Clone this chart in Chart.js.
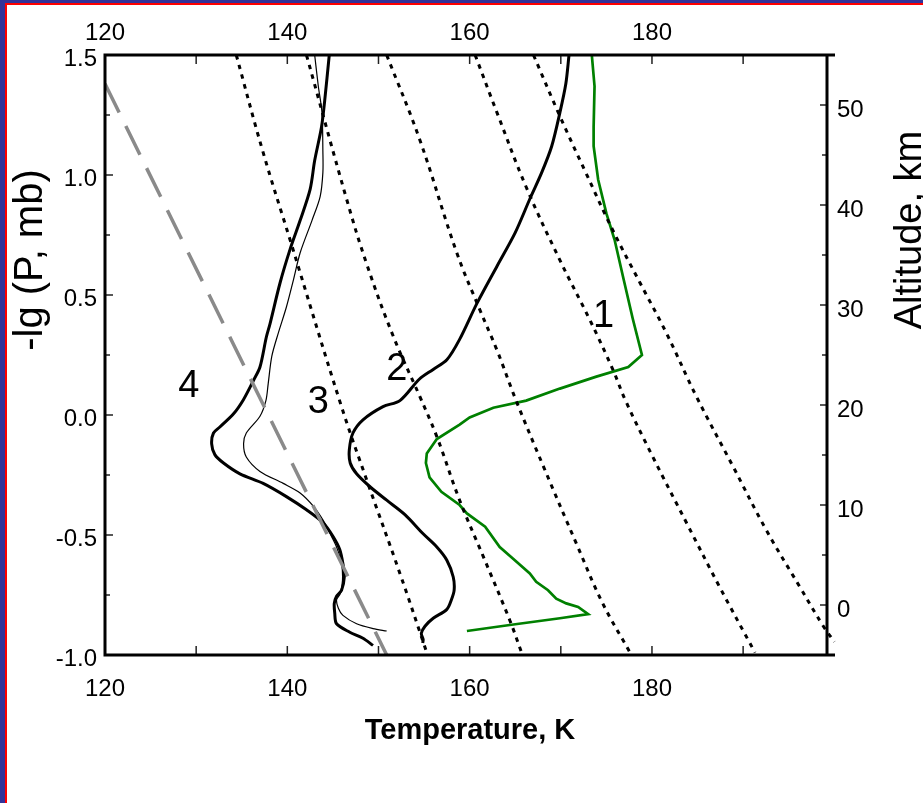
<!DOCTYPE html>
<html>
<head>
<meta charset="utf-8">
<script src="https://cdn.jsdelivr.net/npm/chart.js@4"></script>
<style>
  html, body { margin: 0; padding: 0; background: #fff; }
  #wrap { width: 923px; height: 803px; }
</style>
</head>
<body>
<div id="wrap"><canvas id="profiles" width="923" height="803"></canvas></div>
<script>
// tick values
const tempTicks = [120, 140, 160, 180];
const tempMinor = [130, 150, 170, 190];
const lgpTicks = [-1, -0.5, 0, 0.5, 1, 1.5];
const lgpMinor = [-0.75, -0.25, 0.25, 0.75, 1.25];
const altTicks = [0, 10, 20, 30, 40, 50];
const altMinor = [-5, 5, 15, 25, 35, 45];

// profile 1 (green)
const p1Temp = [173.4, 173.7, 173.6, 173.6, 174.1, 175.0, 175.9, 176.8, 177.9, 178.9, 177.4, 173.9, 169.9, 166.2, 162.6, 160.0, 158.9, 156.4, 155.3, 155.2, 155.6, 156.9, 158.9, 159.7, 161.7, 163.3, 164.8, 166.6, 167.3, 168.6, 169.5, 170.6, 171.9, 173.0, 169.9, 164.4, 159.7];
const p1Lgp = [1.5, 1.37, 1.2, 1.12, 0.98, 0.84, 0.73, 0.58, 0.40, 0.25, 0.20, 0.16, 0.11, 0.06, 0.03, -0.01, -0.04, -0.10, -0.16, -0.20, -0.26, -0.32, -0.375, -0.41, -0.465, -0.55, -0.60, -0.66, -0.695, -0.73, -0.765, -0.785, -0.80, -0.83, -0.847, -0.875, -0.90];

// profile 2
const p2Temp = [170.9, 170.55, 169.9, 169.0, 167.9, 166.6, 165.0, 163.0, 160.8, 158.9, 157.5, 156.0, 154.5, 152.35, 150.5, 148.3, 147.2, 146.8, 146.9, 147.6, 149.1, 150.9, 152.9, 154.9, 156.4, 157.5, 158.2, 158.3, 158.0, 157.5, 156.0, 155.1, 154.7, 154.9, 154.85];
const p2Lgp = [1.5, 1.38, 1.26, 1.12, 1.01, 0.90, 0.76, 0.62, 0.465, 0.315, 0.23, 0.19, 0.15, 0.06, 0.035, -0.02, -0.075, -0.145, -0.20, -0.245, -0.30, -0.355, -0.415, -0.495, -0.55, -0.605, -0.675, -0.73, -0.77, -0.81, -0.847, -0.88, -0.91, -0.935, -0.95];

// profile 3 (thin)
const p3Temp = [143.0, 143.4, 143.8, 143.9, 143.9, 143.6, 142.7, 141.4, 140.65, 139.9, 139.0, 138.3, 137.9, 137.65, 137.0, 135.5, 135.2, 135.5, 137.0, 139.55, 141.4, 142.85, 143.95, 144.7, 145.4, 145.95, 146.05, 145.8, 145.4, 145.6, 146.1, 147.6, 149.4, 150.9];
const p3Lgp = [1.5, 1.37, 1.26, 1.10, 1.01, 0.91, 0.81, 0.675, 0.56, 0.45, 0.34, 0.245, 0.13, 0.06, -0.005, -0.075, -0.12, -0.175, -0.235, -0.285, -0.325, -0.38, -0.44, -0.495, -0.55, -0.62, -0.69, -0.745, -0.77, -0.805, -0.835, -0.87, -0.89, -0.90];

// profile 4
const p4Temp = [144.6, 144.1, 143.75, 143.0, 142.5, 141.4, 140.3, 139.2, 138.1, 137.7, 137.0, 136.3, 135.2, 134.1, 132.6, 131.9, 131.7, 132.05, 133.0, 134.8, 137.35, 139.9, 142.1, 143.95, 145.0, 145.75, 146.1, 146.25, 145.95, 145.4, 145.15, 145.2, 145.4, 146.85, 148.3, 149.4];
const p4Lgp = [1.5, 1.31, 1.20, 1.06, 0.94, 0.81, 0.69, 0.55, 0.38, 0.325, 0.20, 0.145, 0.065, 0.005, -0.05, -0.075, -0.12, -0.165, -0.20, -0.245, -0.285, -0.34, -0.395, -0.45, -0.505, -0.56, -0.62, -0.675, -0.73, -0.755, -0.785, -0.825, -0.87, -0.905, -0.93, -0.96];

// dotted curves
const d1Temp = [134.4, 137.3, 140.3, 145.9, 148.7, 152.35, 155.3];
const d1Lgp = [1.5, 1.1, 0.73, 0.04, -0.27, -0.66, -0.99];
const d2Temp = [142.1, 146.5, 148.7, 151.6, 154.5, 156.4, 158.9, 161.5, 164.4, 165.7];
const d2Lgp = [1.5, 0.90, 0.63, 0.33, 0.08, -0.09, -0.355, -0.59, -0.855, -0.99];
const d3Temp = [150.9, 154.5, 158.6, 161.1, 163.0, 165.1, 168.1, 171.7, 174.6, 177.6];
const d3Lgp = [1.5, 1.15, 0.675, 0.44, 0.27, 0.06, -0.215, -0.535, -0.785, -0.99];
const d4Temp = [160.6, 163.0, 166.2, 169.9, 173.2, 175.7, 177.1, 180.1, 183.8, 187.4, 191.3];
const d4Lgp = [1.5, 1.26, 0.95, 0.645, 0.395, 0.19, 0.06, -0.175, -0.45, -0.715, -0.99];
const d5Temp = [167.0, 169.9, 172.8, 175.7, 178.7, 181.6, 184.9, 188.9, 192.55, 196.2, 198.8, 200.0];
const d5Lgp = [1.5, 1.245, 1.005, 0.77, 0.55, 0.34, 0.075, -0.215, -0.48, -0.715, -0.88, -0.945];

// grey dashed line
const gTemp = [120, 150.9];
const gLgp = [1.38, -1.0];

// curve numbers
const curveLabels = ['1', '2', '3', '4'];
const labelTemp = [174.7, 152.0, 143.4, 129.2];
const labelLgp = [0.41, 0.19, 0.05, 0.12];

const FONT = '"Liberation Sans", Arial, sans-serif';

function pts(t, p) {
  return t.map((v, i) => ({ x: v, y: p[i] }));
}

function dotted(t, p) {
  return {
    data: pts(t, p), borderColor: '#000', borderWidth: 3, borderDash: [4.5, 5.5],
    tension: 0.4, pointRadius: 0, fill: false
  };
}

function solid(t, p, color, width, tension) {
  return {
    data: pts(t, p), borderColor: color, borderWidth: width,
    tension: tension, pointRadius: 0, fill: false
  };
}

const d5 = dotted(d5Temp, d5Lgp);
d5.clip = false;

const datasets = [
  dotted(d1Temp, d1Lgp),
  dotted(d2Temp, d2Lgp),
  dotted(d3Temp, d3Lgp),
  dotted(d4Temp, d4Lgp),
  d5,
  Object.assign(solid(gTemp, gLgp, '#8a8a8a', 3.5, 0), { borderDash: [32, 15] }),
  solid(p4Temp, p4Lgp, '#000', 3, 0.3),
  solid(p3Temp, p3Lgp, '#000', 1.2, 0.3),
  solid(p2Temp, p2Lgp, '#000', 3, 0.3),
  solid(p1Temp, p1Lgp, '#008000', 2.7, 0)
];

function fixTicks(values) {
  return (scale) => { scale.ticks = values.map(v => ({ value: v })); };
}

const tickFont = { family: FONT, size: 24 };

const frame = {
  id: 'frame',
  beforeDraw(chart) {
    const c = chart.ctx;
    c.save();
    c.fillStyle = '#fff';
    c.fillRect(0, 0, chart.width, chart.height);
    c.fillStyle = '#333399';
    c.fillRect(0, 0, 5, chart.height);
    c.fillRect(0, 0, chart.width, 3);
    c.fillStyle = '#ff0000';
    c.fillRect(5, 3, 2, chart.height - 3);
    c.fillRect(5, 3, chart.width - 5, 2);
    c.restore();
  },
  afterDraw(chart) {
    const c = chart.ctx;
    const a = chart.chartArea;
    const xs = chart.scales.x, ys = chart.scales.y, ys2 = chart.scales.y2;
    c.save();
    // tick marks pointing inward
    c.strokeStyle = '#222';
    c.lineWidth = 1.5;
    c.beginPath();
    tempTicks.concat(tempMinor).forEach(v => {
      const px = xs.getPixelForValue(v);
      c.moveTo(px, a.bottom); c.lineTo(px, a.bottom - 9);
      c.moveTo(px, a.top); c.lineTo(px, a.top + 9);
    });
    lgpTicks.forEach(v => { const py = ys.getPixelForValue(v); c.moveTo(a.left, py); c.lineTo(a.left + 8, py); });
    lgpMinor.forEach(v => { const py = ys.getPixelForValue(v); c.moveTo(a.left, py); c.lineTo(a.left + 5, py); });
    altTicks.forEach(v => { const py = ys2.getPixelForValue(v); c.moveTo(a.right, py); c.lineTo(a.right - 7, py); });
    altMinor.forEach(v => { const py = ys2.getPixelForValue(v); c.moveTo(a.right, py); c.lineTo(a.right - 5, py); });
    c.stroke();
    // axis lines
    c.strokeStyle = '#000';
    c.lineWidth = 3;
    c.beginPath();
    c.moveTo(a.left, a.top); c.lineTo(a.right + 8, a.top);
    c.moveTo(a.left, a.bottom); c.lineTo(a.right + 8, a.bottom);
    c.moveTo(a.left, a.top - 1.5); c.lineTo(a.left, a.bottom + 1.5);
    c.moveTo(a.right, a.top - 1.5); c.lineTo(a.right, a.bottom + 1.5);
    c.stroke();
    // curve numbers
    c.fillStyle = '#000';
    c.font = '38px ' + FONT;
    c.textAlign = 'center';
    c.textBaseline = 'middle';
    curveLabels.forEach((s, i) => {
      c.fillText(s, xs.getPixelForValue(labelTemp[i]), ys.getPixelForValue(labelLgp[i]));
    });
    // axis titles
    c.textBaseline = 'alphabetic';
    c.font = 'bold 29px ' + FONT;
    c.fillText('Temperature, K', 470, 739);
    c.save();
    c.translate(42, 260);
    c.rotate(-Math.PI / 2);
    c.font = '40px ' + FONT;
    c.fillText('-lg (P, mb)', 0, 0);
    c.restore();
    c.save();
    c.translate(921, 230);
    c.rotate(-Math.PI / 2);
    c.font = '38px ' + FONT;
    c.fillText('Altitude, km', 0, 0);
    c.restore();
    c.restore();
  }
};

new Chart(document.getElementById('profiles'), {
  type: 'line',
  data: { datasets },
  options: {
    responsive: false,
    animation: false,
    events: [],
    layout: { padding: 0 },
    plugins: { legend: { display: false }, tooltip: { enabled: false } },
    scales: {
      x: {
        type: 'linear', position: 'bottom', min: 120, max: 199.2,
        grid: { display: false, drawTicks: false }, border: { display: false },
        afterBuildTicks: fixTicks(tempTicks),
        afterFit: (s) => { s.height = 148; },
        ticks: { font: tickFont, color: '#000', padding: 20, maxRotation: 0 }
      },
      x2: {
        type: 'linear', position: 'top', min: 120, max: 199.2,
        grid: { display: false, drawTicks: false }, border: { display: false },
        afterBuildTicks: fixTicks(tempTicks),
        afterFit: (s) => { s.height = 55; },
        ticks: { font: tickFont, color: '#000', padding: 7, maxRotation: 0 }
      },
      y: {
        type: 'linear', position: 'left', min: -1, max: 1.5,
        grid: { display: false, drawTicks: false }, border: { display: false },
        afterBuildTicks: fixTicks(lgpTicks),
        afterFit: (s) => { s.width = 105; },
        ticks: { font: tickFont, color: '#000', padding: 8, labelOffset: 4, callback: (v) => v.toFixed(1) }
      },
      y2: {
        type: 'linear', position: 'right', min: -5, max: 55,
        grid: { display: false, drawTicks: false }, border: { display: false },
        afterBuildTicks: fixTicks(altTicks),
        afterFit: (s) => { s.width = 96; },
        ticks: { font: tickFont, color: '#000', padding: 10, labelOffset: 5 }
      }
    }
  },
  plugins: [frame]
});
</script>
</body>
</html>
